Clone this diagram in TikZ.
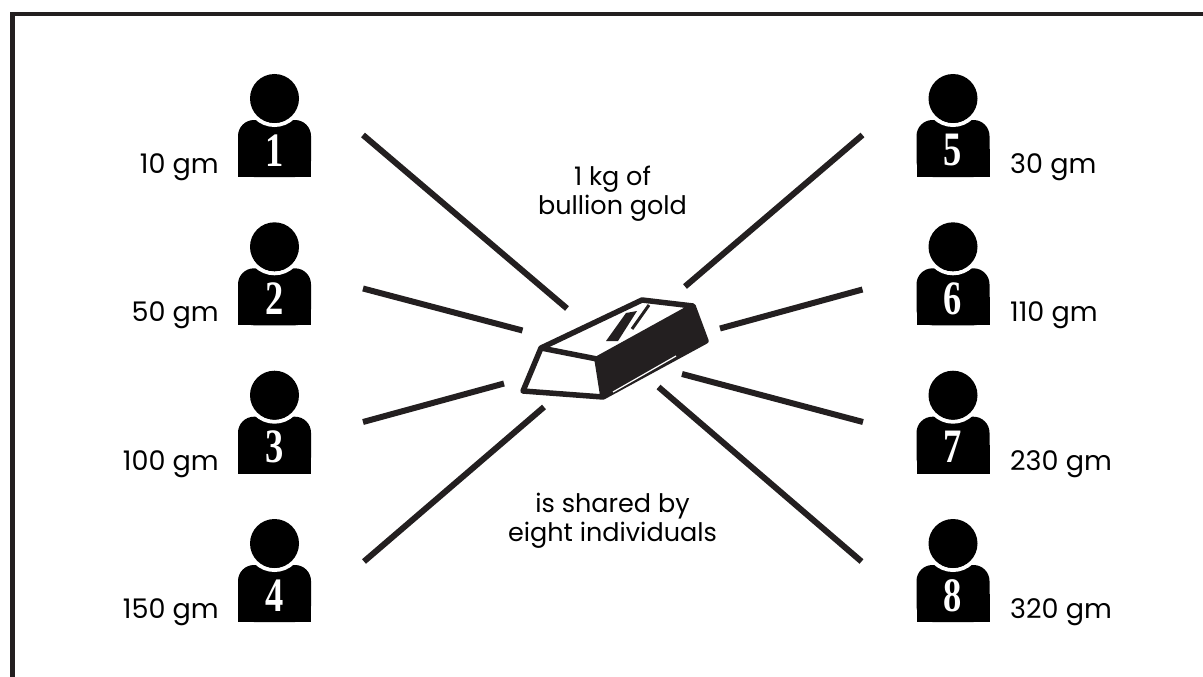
\documentclass[tikz,border=0pt]{standalone}
\usepackage{fontspec}
\setmainfont{Poppins}
\newfontfamily\numfont{Liberation Serif}
\definecolor{ink}{RGB}{35,31,32}
\tikzset{
    ray/.style={
        line width=6pt,
        draw=ink},
    weight/.style={
        font=\fontsize{27}{30}\selectfont,
        inner sep=0pt},
    caption/.style={
        font=\fontsize{25.5}{29}\selectfont,
        align=center,
        inner sep=0pt},
    person/.pic={
        \fill[rounded corners=16pt] (-36.5,21.5) rectangle (36.5,78.5);
        \fill (-36.5,50) rectangle (36.5,78.5);
        \draw[white, line width=4pt] (0,0) circle[radius=26.5pt];
        \fill (0,0) circle[radius=24.5pt];
        \node[
            font=\numfont\bfseries\fontsize{48}{48}\selectfont,
            text=white,
            xscale=0.76,
            inner sep=0pt]
            (-num) at (0,52) {#1};
    }
}

\begin{document}
\begin{tikzpicture}[x=1pt, y=-1pt]
    \useasboundingbox (0,0) rectangle (1203,677);

    % frame
    \draw[ink, line width=4.5pt] (12.5,677) -- (12.5,13.8) -- (1203,13.8);

    % people and their shares
    \pic (p1) at (274.5,98.5) {person=1};
    \pic (p2) at (274.5,246.8) {person=2};
    \pic (p3) at (274.5,395.2) {person=3};
    \pic (p4) at (274.5,543.5) {person=4};
    \pic (p5) at (953,98.5) {person=5};
    \pic (p6) at (953,246.8) {person=6};
    \pic (p7) at (953,395.2) {person=7};
    \pic (p8) at (953,543.5) {person=8};

    \node[weight, anchor=base east] (w1) at (219,173.5) {10 gm};
    \node[weight, anchor=base east] (w2) at (219,321.8) {50 gm};
    \node[weight, anchor=base east] (w3) at (219,470.2) {100 gm};
    \node[weight, anchor=base east] (w4) at (219,618.5) {150 gm};
    \node[weight, anchor=base west] (w5) at (1010,173.5) {30 gm};
    \node[weight, anchor=base west] (w6) at (1010,321.8) {110 gm};
    \node[weight, anchor=base west] (w7) at (1010,470.2) {230 gm};
    \node[weight, anchor=base west] (w8) at (1010,618.5) {320 gm};

    \node[caption] (gold) at (612.5,194) {1 kg of\\bullion gold};
    \node[caption] (shared) at (612.5,521) {is shared by\\eight individuals};

    % gold bar
    \coordinate (A) at (541,348);
    \coordinate (B) at (642,300);
    \coordinate (C) at (693,306);
    \coordinate (D) at (706,341);
    \coordinate (E) at (597,359);
    \coordinate (F) at (603,397);
    \coordinate (G) at (523,391);
    \fill[ink] (E) -- (C) -- (D) -- (F) -- cycle;
    \draw[ink, line width=5.5pt, line join=round]
        (A) -- (B) -- (C) -- (D) -- (F) -- (G) -- cycle
        (A) -- (E) -- (F)
        (E) -- (C);
    \fill[ink] (606,341) -- (626,313) -- (637,311) -- (618,341) -- cycle;
    \draw[ink, line width=3pt] (632,329) -- (649,305);
    \draw[white, line width=1.2pt] (613,392) -- (676,356);

    % rays
    \coordinate (r1a) at (363,135);
    \coordinate (r1b) at (567,308.5);
    \coordinate (r2a) at (363,288.5);
    \coordinate (r2b) at (522.5,330.5);
    \coordinate (r3a) at (363,422);
    \coordinate (r3b) at (504,383.5);
    \coordinate (r4a) at (364,561.5);
    \coordinate (r4b) at (544,407);
    \coordinate (r5a) at (862.5,135);
    \coordinate (r5b) at (685,286.5);
    \coordinate (r6a) at (862.5,289.5);
    \coordinate (r6b) at (720,328.5);
    \coordinate (r7a) at (863,422);
    \coordinate (r7b) at (682,374);
    \coordinate (r8a) at (861.5,561.5);
    \coordinate (r8b) at (658.5,387);
    \draw[ray] (r1a) -- (r1b);
    \draw[ray] (r2a) -- (r2b);
    \draw[ray] (r3a) -- (r3b);
    \draw[ray] (r4a) -- (r4b);
    \draw[ray] (r5a) -- (r5b);
    \draw[ray] (r6a) -- (r6b);
    \draw[ray] (r7a) -- (r7b);
    \draw[ray] (r8a) -- (r8b);
\end{tikzpicture}
\end{document}
